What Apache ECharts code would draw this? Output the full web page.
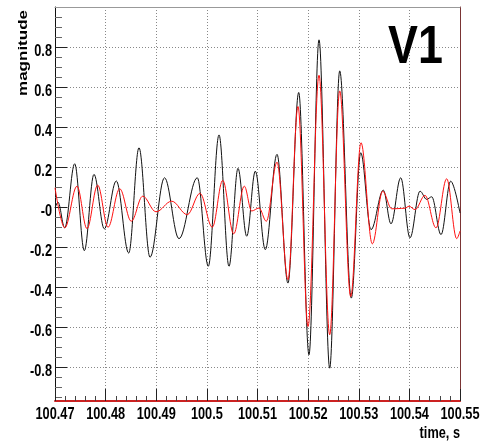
<!DOCTYPE html>
<html>
<head>
<meta charset="utf-8">
<title>V1 magnitude</title>
<script src="https://cdn.jsdelivr.net/npm/echarts@6/dist/echarts.min.js"></script>
<style>
  html, body { margin: 0; padding: 0; background: #fff; }
  #chart { width: 483px; height: 441px; }
</style>
</head>
<body>
<div id="chart"></div>
<script>
// Waveform extrema (time in s, magnitude) for the two traces
const blackTime = [100.47000, 100.47059, 100.47192, 100.47389, 100.47579, 100.47770, 100.47974, 100.48211,
  100.48456, 100.48659, 100.48877, 100.49163, 100.49449, 100.49811, 100.50028, 100.50240, 100.50437,
  100.50615, 100.50787, 100.50957, 100.51154, 100.51385, 100.51602, 100.51814, 100.52017, 100.52215,
  100.52426, 100.52624, 100.52853, 100.53039, 100.53242, 100.53485, 100.53637, 100.53829, 100.54012,
  100.54210, 100.54342, 100.54441, 100.54625, 100.54816, 100.55000];
const blackValue = [-0.005, 0.024, -0.104, 0.216, -0.218, 0.163, -0.109, 0.130,
  -0.230, 0.296, -0.251, 0.146, -0.158, 0.146, -0.296, 0.360, -0.296,
  0.193, -0.146, 0.179, -0.213, 0.263, -0.380, 0.572, -0.738, 0.835,
  -0.805, 0.680, -0.455, 0.271, -0.113, 0.084, -0.084, 0.146, -0.154,
  0.079, 0.038, 0.051, -0.138, 0.129, -0.030];

const redTime = [100.47000, 100.47192, 100.47435, 100.47632, 100.47843, 100.48047, 100.48278, 100.48507,
  100.48732, 100.48995, 100.49305, 100.49613, 100.49864, 100.50107, 100.50313, 100.50530, 100.50739,
  100.50885, 100.51030, 100.51174, 100.51385, 100.51602, 100.51800, 100.51998, 100.52215, 100.52426,
  100.52624, 100.52841, 100.53044, 100.53268, 100.53473, 100.53651, 100.53775, 100.53914, 100.53993,
  100.54111, 100.54309, 100.54526, 100.54737, 100.54935, 100.55000];
const redValue = [0.096, -0.104, 0.104, -0.108, 0.109, -0.101, 0.091, -0.071,
  0.054, -0.024, 0.029, -0.038, 0.068, -0.101, 0.133, -0.134, 0.104,
  -0.020, -0.005, -0.071, 0.224, -0.363, 0.502, -0.597, 0.658, -0.638,
  0.580, -0.447, 0.321, -0.184, 0.079, -0.009, -0.008, -0.006, 0.004,
  -0.013, 0.058, -0.104, 0.141, -0.158, -0.120];

// Axis ranges and tick values
const timeRange = [100.47, 100.55];
const timeStep = 0.01;
const timeTicks = [100.47, 100.48, 100.49, 100.5, 100.51, 100.52, 100.53, 100.54, 100.55];
const magRange = [-0.969, 0.999];
const magMajorTicks = [-0.8, -0.6, -0.4, -0.2, 0, 0.2, 0.4, 0.6, 0.8];
const magMinorTicks = [-0.95, -0.9, -0.85, -0.75, -0.7, -0.65, -0.55, -0.5, -0.45, -0.35, -0.3, -0.25,
  -0.15, -0.1, -0.05, 0.05, 0.1, 0.15, 0.25, 0.3, 0.35, 0.45, 0.5, 0.55, 0.65, 0.7, 0.75, 0.85, 0.9, 0.95];

const titleText = 'V1';
const xTitle = 'time, s';
const yTitle = 'magnitude';

const zip = (xs, ys) => xs.map((x, i) => [x, ys[i]]);
const fmtTime = v => String(+v.toFixed(2));
const fmtMag = v => (Math.abs(v) < 1e-9 ? '-0' : String(+v.toFixed(1)));

// Bold sans drawn horizontally condensed
const FONT_FAMILY = "'Liberation Sans', Arial, sans-serif";
const NARROW = 0.75;

const chart = echarts.init(document.getElementById('chart'), null, { renderer: 'canvas' });

chart.setOption({
  animation: false,
  backgroundColor: '#fff',
  grid: { left: 55, right: 23, top: 7, bottom: 40, containLabel: false },
  xAxis: [
    {
      type: 'value',
      min: timeRange[0],
      max: timeRange[1],
      interval: timeStep,
      axisLine: { show: true, onZero: false, lineStyle: { color: '#cc2222', width: 2 } },
      axisTick: { show: true, inside: true, length: 12, lineStyle: { color: '#222' } },
      minorTick: { show: true, splitNumber: 5, length: 5, lineStyle: { color: '#444' } },
      axisLabel: { show: false },
      splitLine: { show: true, lineStyle: { color: '#888', type: [1, 2], width: 1 } }
    },
    {
      // top frame edge
      type: 'value',
      position: 'top',
      min: timeRange[0],
      max: timeRange[1],
      axisLine: { show: true, onZero: false, lineStyle: { color: '#999', width: 1 } },
      axisTick: { show: false },
      axisLabel: { show: false },
      splitLine: { show: false }
    }
  ],
  yAxis: [
    {
      type: 'value',
      min: magRange[0],
      max: magRange[1],
      position: 'left',
      axisLine: { show: true, onZero: false, lineStyle: { color: '#111', width: 1 } },
      axisTick: { show: true, inside: true, length: 12, customValues: magMajorTicks, lineStyle: { color: '#222' } },
      axisLabel: { show: false, customValues: magMajorTicks },
      splitLine: { show: true, lineStyle: { color: '#888', type: [1, 2], width: 1 } }
    },
    {
      // minor ticks on the left edge
      type: 'value',
      min: magRange[0],
      max: magRange[1],
      position: 'left',
      axisLine: { show: false, onZero: false },
      axisTick: { show: true, inside: true, length: 7, customValues: magMinorTicks, lineStyle: { color: '#666' } },
      axisLabel: { show: false },
      splitLine: { show: false }
    },
    {
      // right frame edge
      type: 'value',
      min: magRange[0],
      max: magRange[1],
      position: 'right',
      axisLine: { show: true, onZero: false, lineStyle: { color: '#7a3434', width: 1 } },
      axisTick: { show: false },
      axisLabel: { show: false },
      splitLine: { show: false }
    }
  ],
  series: [
    {
      name: 'black',
      type: 'line',
      data: zip(blackTime, blackValue),
      smooth: 0.36,
      smoothMonotone: 'x',
      showSymbol: false,
      lineStyle: { color: '#111', width: 1 },
      z: 3
    },
    {
      name: 'red',
      type: 'line',
      data: zip(redTime, redValue),
      smooth: 0.36,
      smoothMonotone: 'x',
      showSymbol: false,
      lineStyle: { color: '#ff1010', width: 1 },
      z: 4
    }
  ]
});

// Tick labels and titles, placed with the axes' own scales
function textEl(x, y, text, size, align, vAlign, extra) {
  return Object.assign({
    type: 'text',
    x: x,
    y: y,
    scaleX: NARROW,
    silent: true,
    z: 10,
    style: {
      text: text,
      fill: '#000',
      font: 'bold ' + size + 'px ' + FONT_FAMILY,
      align: align,
      verticalAlign: vAlign
    }
  }, extra || {});
}

const graphics = [];
timeTicks.forEach(v => {
  const px = chart.convertToPixel({ xAxisIndex: 0 }, v);
  graphics.push(textEl(px, 414, fmtTime(v), 17, 'center', 'middle'));
});
magMajorTicks.forEach(v => {
  const py = chart.convertToPixel({ yAxisIndex: 0 }, v);
  graphics.push(textEl(52, py + 4.5, fmtMag(v), 17, 'right', 'middle'));
});
graphics.push(textEl(388, 48, titleText, 54, 'left', 'middle', { scaleX: 0.83 }));
graphics.push(textEl(460, 433, xTitle, 17, 'right', 'middle'));
graphics.push(textEl(23, 10, yTitle, 17, 'right', 'middle', { scaleX: 1, scaleY: NARROW, rotation: Math.PI / 2 }));

chart.setOption({ graphic: graphics });
</script>
</body>
</html>
